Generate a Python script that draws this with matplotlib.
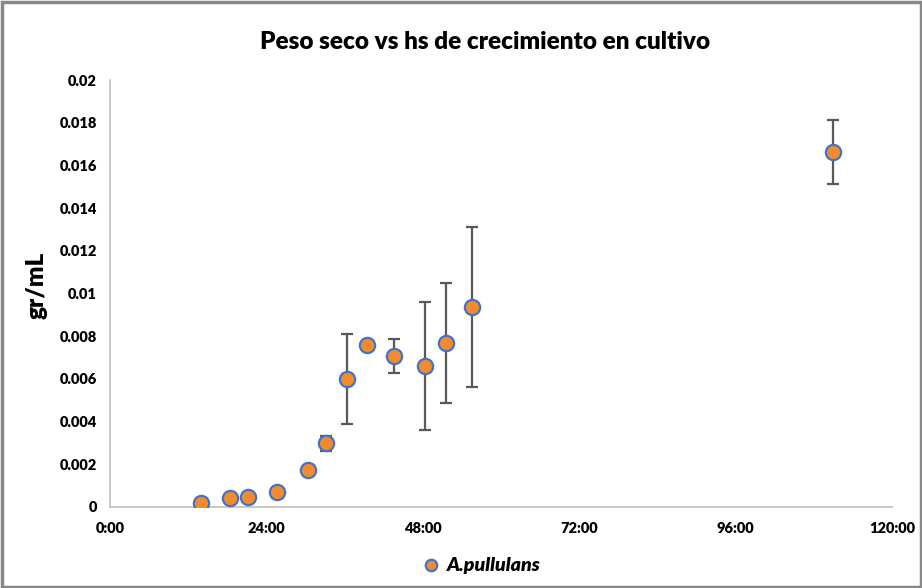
import numpy as np
import matplotlib.pyplot as plt
from matplotlib.patches import Rectangle
from matplotlib.ticker import FixedLocator

# growth curve: dry weight (gr/mL) against culture time (hours)
horas = [13.9, 18.4, 21.2, 25.7, 30.4, 33.1, 36.3, 39.5, 43.6, 48.3, 51.5, 55.6, 111.0]
peso = [0.00017, 0.00042, 0.00048, 0.00072, 0.00173, 0.00298, 0.0060,
        0.00759, 0.00707, 0.0066, 0.00767, 0.00938, 0.01664]
desvio = [0.0, 0.0, 0.0, 0.0, 0.0, 0.00035, 0.0021,
          0.0, 0.00081, 0.0030, 0.0028, 0.00375, 0.0015]

x_ticks = [0, 24, 48, 72, 96, 120]
x_labels = ['0:00', '24:00', '48:00', '72:00', '96:00', '120:00']
y_ticks = [0, 0.002, 0.004, 0.006, 0.008, 0.01, 0.012, 0.014, 0.016, 0.018, 0.02]
y_labels = ['0', '0.002', '0.004', '0.006', '0.008', '0.01', '0.012',
            '0.014', '0.016', '0.018', '0.02']

plt.rcParams['font.family'] = ['Lato', 'DejaVu Sans']

fig = plt.figure(figsize=(9.22, 5.88), dpi=100)
ax = fig.add_axes([110 / 922, 1 - 507 / 588, 782 / 922, 427 / 588])

ax.errorbar(horas, peso, yerr=desvio, fmt='none', ecolor='#595959',
            elinewidth=1.6, capsize=4.3, capthick=1.6, zorder=2)
ax.plot(horas, peso, 'o', ms=11, mfc='#F28A2E', mec='#4472C4', mew=1.6,
        zorder=3, label='A.pullulans')

ax.set_xlim(0, 120)
ax.set_ylim(0, 0.02)
ax.xaxis.set_major_locator(FixedLocator(x_ticks))
ax.set_xticklabels(x_labels)
ax.yaxis.set_major_locator(FixedLocator(y_ticks))
ax.set_yticklabels(y_labels)
ax.tick_params(length=0, labelsize=10.5)
ax.tick_params(axis='x', pad=11)
ax.tick_params(axis='y', pad=9.5)
for lab in ax.get_xticklabels() + ax.get_yticklabels():
    lab.set_fontweight('heavy')

for side in ['top', 'right']:
    ax.spines[side].set_visible(False)
for side in ['left', 'bottom']:
    ax.spines[side].set_color('#BFBFBF')
    ax.spines[side].set_linewidth(1.2)

fig.text(485 / 922, 1 - 42 / 588, 'Peso seco vs hs de crecimiento en cultivo',
         ha='center', va='center', fontsize=17.5, fontweight='heavy')
fig.text(36 / 922, 1 - 285 / 588, 'gr/mL', ha='center', va='center',
         rotation=90, fontsize=17.5, fontweight='heavy')

leg = fig.legend(loc='center', bbox_to_anchor=(481 / 922, 1 - 566 / 588),
                 frameon=False, handlelength=1.0, handletextpad=0.3,
                 markerscale=0.75,
                 prop={'weight': 'heavy', 'style': 'italic', 'size': 14})

# grey frame round the whole chart
fig.patches.append(Rectangle((1.5 / 922, 1.5 / 588), 919 / 922, 585 / 588,
                             transform=fig.transFigure, fill=False,
                             edgecolor='#888888', linewidth=2.5))

fig.savefig('out.png', dpi=100)
